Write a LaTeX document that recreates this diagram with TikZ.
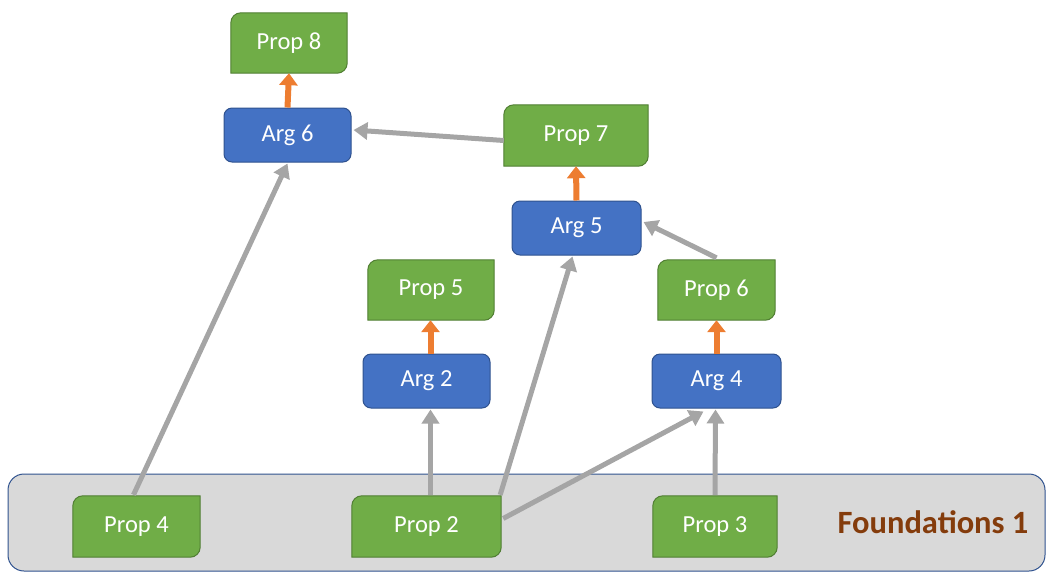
\documentclass[tikz,border=0pt]{standalone}
\usepackage{fontspec}
\setmainfont{Carlito}
\usetikzlibrary{arrows.meta}
\pgfdeclarelayer{back}
\pgfdeclarelayer{mid}
\pgfsetlayers{back,mid,main}
\definecolor{propgreen}{HTML}{70AD47}
\definecolor{propedge}{HTML}{507E32}
\definecolor{argblue}{HTML}{4472C4}
\definecolor{argedge}{HTML}{2F528F}
\definecolor{foundfill}{HTML}{D9D9D9}
\definecolor{linkgray}{HTML}{A5A5A5}
\definecolor{supportorange}{HTML}{ED7D31}
\definecolor{foundtext}{HTML}{843C0C}
\tikzset{
  propnode/.style={draw=none,inner sep=0pt,text=white,font=\fontsize{24.5}{28}\selectfont},
  argnode/.style={draw=argedge,fill=argblue,line width=1pt,rounded corners=8pt,inner sep=0pt,
    minimum height=54pt,text=white,font=\fontsize{24.5}{28}\selectfont},
  propshape/.style={draw=propedge,fill=propgreen,line width=1pt},
  link/.style={draw=linkgray,line width=5pt,-{Triangle[width=17pt,length=14pt]}},
  support/.style={draw=supportorange,line width=6pt,-{Triangle[width=18pt,length=12pt]}},
}
\newcommand\diagshape[1]{%
  \filldraw[propshape] (#1.north east) -- ([yshift=10pt]#1.south east)
    arc[start angle=0,end angle=-90,radius=10pt] -- (#1.south west)
    -- ([yshift=-10pt]#1.north west) arc[start angle=180,end angle=90,radius=10pt] -- cycle;}
\begin{document}
\begin{tikzpicture}[x=1pt,y=-1pt]
\useasboundingbox (0,0) rectangle (1053,582);
% foundations
\begin{pgfonlayer}{back}
\node[draw=argedge,fill=foundfill,line width=1pt,rounded corners=16pt,minimum width=1037pt,minimum height=97pt,inner sep=0pt] (found) at (526.5,522.5) {};
\end{pgfonlayer}
\node[text=foundtext,font=\fontsize{32.5}{38}\selectfont\bfseries] (foundlabel) at (933,522) {Foundations 1};
% props
\node[propnode,minimum width=116pt,minimum height=60pt] (p8) at (289,43) {Prop 8};
\node[propnode,minimum width=144pt,minimum height=61pt] (p7) at (576,135.5) {Prop 7};
\node[propnode,minimum width=126pt,minimum height=60pt] (p5) at (431,290) {Prop 5};
\node[propnode,minimum width=117pt,minimum height=60pt] (p6) at (716.5,290) {Prop 6};
\node[propnode,minimum width=127pt,minimum height=61pt] (p4) at (136.5,526.5) {Prop 4};
\node[propnode,minimum width=149pt,minimum height=61pt] (p2) at (426.5,526.5) {Prop 2};
\node[propnode,minimum width=124pt,minimum height=61pt] (p3) at (715,526.5) {Prop 3};
\begin{pgfonlayer}{mid}
\diagshape{p8}\diagshape{p7}\diagshape{p5}\diagshape{p6}\diagshape{p4}\diagshape{p2}\diagshape{p3}
\end{pgfonlayer}
% args
\node[argnode,minimum width=127pt] (a6) at (287.5,135) {Arg 6};
\node[argnode,minimum width=129pt] (a5) at (576.5,228) {Arg 5};
\node[argnode,minimum width=127pt] (a2) at (426.5,381) {Arg 2};
\node[argnode,minimum width=129pt] (a4) at (716.5,381) {Arg 4};
% links
\draw[link] ([xshift=-3pt,yshift=1pt]p4.north) -- ([yshift=-1pt]a6.south);
\draw[link] ([xshift=4pt,yshift=1pt]p2.north) -- ([xshift=4pt,yshift=-1pt]a2.south);
\draw[link] ([xshift=-1pt,yshift=1pt]p2.north east) -- ([xshift=-4pt,yshift=-1pt]a5.south);
\draw[link] ([xshift=2pt,yshift=8pt]p2.east) -- ([xshift=-13pt,yshift=-3pt]a4.south);
\draw[link] ([yshift=1pt]p3.north) -- ([xshift=-1pt,yshift=-1pt]a4.south);
\draw[link] ([yshift=2pt]p6.north) -- ([xshift=2pt,yshift=6pt]a5.east);
\draw[link] ([yshift=-5pt]p7.west) -- ([xshift=2pt,yshift=5pt]a6.east);
% supports
\draw[support] (a6.north) -- (p8.south);
\draw[support] (a5.north) -- (p7.south);
\draw[support] ([xshift=4pt]a2.north) -- ([xshift=4pt]a2.north |- p5.south);
\draw[support] (a4.north) -- (a4.north |- p6.south);
\end{tikzpicture}
\end{document}
